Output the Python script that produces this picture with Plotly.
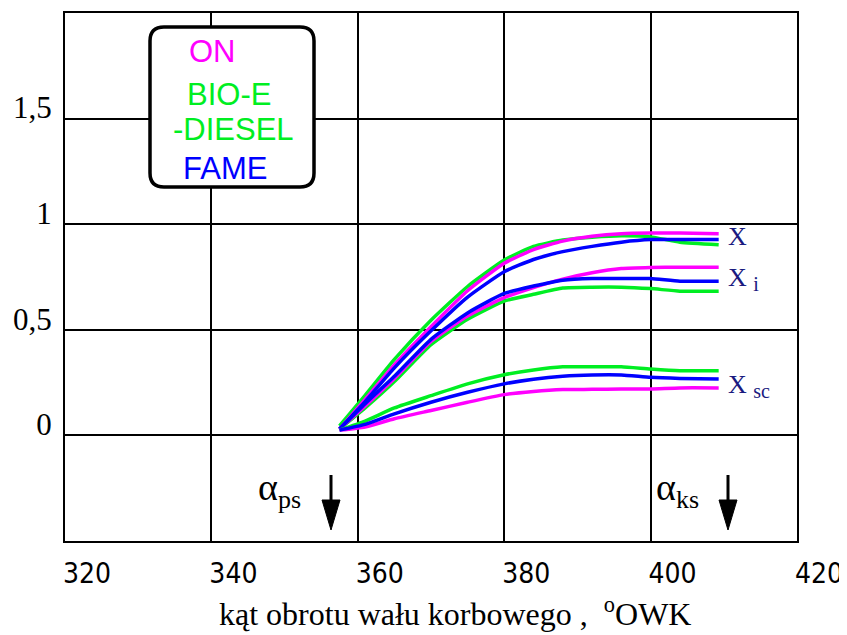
import plotly.graph_objects as go

# ---- data ----
angle = [357.5, 361, 365, 370, 375, 380, 384, 388, 392, 396, 400, 404, 409.3]

on_x    = [0.03, 0.17, 0.335, 0.515, 0.685, 0.815, 0.88, 0.92, 0.943, 0.955, 0.958, 0.958, 0.955]
bio_x   = [0.045, 0.19, 0.36, 0.545, 0.705, 0.83, 0.895, 0.925, 0.938, 0.945, 0.94, 0.915, 0.903]
fame_x  = [0.03, 0.16, 0.32, 0.495, 0.655, 0.775, 0.833, 0.87, 0.895, 0.915, 0.927, 0.927, 0.927]

on_xi   = [0.03, 0.14, 0.27, 0.445, 0.565, 0.652, 0.70, 0.74, 0.77, 0.79, 0.795, 0.796, 0.796]
bio_xi  = [0.03, 0.13, 0.255, 0.43, 0.55, 0.636, 0.668, 0.698, 0.702, 0.702, 0.695, 0.683, 0.683]
fame_xi = [0.03, 0.15, 0.28, 0.455, 0.58, 0.672, 0.707, 0.735, 0.743, 0.743, 0.743, 0.73, 0.73]

on_xsc   = [0.025, 0.04, 0.079, 0.118, 0.157, 0.193, 0.208, 0.217, 0.218, 0.22, 0.22, 0.225, 0.225]
bio_xsc  = [0.025, 0.068, 0.13, 0.188, 0.244, 0.287, 0.31, 0.325, 0.325, 0.325, 0.314, 0.306, 0.306]
fame_xsc = [0.025, 0.052, 0.102, 0.157, 0.204, 0.244, 0.266, 0.28, 0.286, 0.286, 0.275, 0.27, 0.267]

x_ticks = [320, 340, 360, 380, 400, 420]
y_ticks = [0, 0.5, 1, 1.5]
y_ticktext = ["0", "0,5", "1", "1,5"]

C_ON, C_BIO, C_FAME = "#ff00ff", "#00ee22", "#0000ff"
LBL = "#1a1a80"

fig = go.Figure()
series = [
    (bio_x, C_BIO), (on_x, C_ON), (fame_x, C_FAME),
    (bio_xi, C_BIO), (on_xi, C_ON), (fame_xi, C_FAME),
    (bio_xsc, C_BIO), (on_xsc, C_ON), (fame_xsc, C_FAME),
]
for ys, col in series:
    fig.add_trace(go.Scatter(x=angle, y=ys, mode="lines",
                             line=dict(color=col, width=3.5, shape="spline", smoothing=0.5),
                             showlegend=False, hoverinfo="skip"))

# page body has an 8px margin, so the figure is offset by (8, 8)
fig.update_layout(
    width=839, height=627,
    margin=dict(l=57, r=50, t=5, b=94, autoexpand=False),
    paper_bgcolor="white", plot_bgcolor="white",
    showlegend=False,
)
fig.update_xaxes(
    range=[320, 420], tickvals=x_ticks, ticktext=[str(v) for v in x_ticks],
    showgrid=True, gridcolor="black", gridwidth=1.5,
    showline=True, linecolor="black", linewidth=2, mirror=True,
    zeroline=False, ticks="", automargin=False,
    tickfont=dict(family="Liberation Sans Narrow, Arial Narrow, DejaVu Sans Condensed, sans-serif", size=28, color="black"),
    ticklabelshift=22, ticklabelstandoff=6,
)
fig.update_yaxes(
    range=[-0.5, 2.0], tickvals=y_ticks, ticktext=y_ticktext,
    showgrid=True, gridcolor="black", gridwidth=1.5,
    showline=True, linecolor="black", linewidth=2, mirror=True,
    zeroline=False, ticks="", automargin=False,
    tickfont=dict(family="Liberation Serif, serif", size=31, color="black"),
    ticklabelshift=-11, ticklabelstandoff=5,
)

# screen px of plot area: x 65..797, y 13..541
def px2paper(px, py):
    return (px - 65) / 732, (541 - py) / 528

# legend box (rounded)
x0, yt = px2paper(150, 27)
x1, yb = px2paper(314, 187)
rx, ry = 14 / 732, 14 / 528
path = (f"M {x0+rx},{yt} L {x1-rx},{yt} Q {x1},{yt} {x1},{yt-ry} "
        f"L {x1},{yb+ry} Q {x1},{yb} {x1-rx},{yb} L {x0+rx},{yb} "
        f"Q {x0},{yb} {x0},{yb+ry} L {x0},{yt-ry} Q {x0},{yt} {x0+rx},{yt} Z")
fig.add_shape(type="path", path=path, xref="paper", yref="paper",
              line=dict(color="black", width=3.5), fillcolor="white", layer="above")

legend_items = [("ON", C_ON, 187, 52), ("BIO-E", C_BIO, 185, 94),
                ("-DIESEL", C_BIO, 171, 130), ("FAME", C_FAME, 181, 168)]
for txt, col, px, py in legend_items:
    xp, yp = px2paper(px, py)
    fig.add_annotation(x=xp, y=yp, xref="paper", yref="paper", text=txt,
                       showarrow=False, xanchor="left", yanchor="middle",
                       font=dict(family="Liberation Sans, Arial, sans-serif", size=31, color=col))

# curve labels
curve_labels = [("X", 236), ("X <sub><span style='font-size:20px'>i</span></sub>", 279),
                ("X <sub><span style='font-size:20px'>sc</span></sub>", 386)]
for txt, py in curve_labels:
    xp, yp = px2paper(726, py)
    fig.add_annotation(x=xp, y=yp, xref="paper", yref="paper", text=txt,
                       showarrow=False, xanchor="left", yanchor="middle",
                       font=dict(family="Liberation Serif, serif", size=26, color=LBL))

# alpha markers with arrows
alpha_items = [("α<sub><span style='font-size:26px'>ps</span></sub>", 256, 331),
               ("α<sub><span style='font-size:26px'>ks</span></sub>", 654, 728)]
for txt, pxl, pxa in alpha_items:
    xp, yp = px2paper(pxl, 490)
    fig.add_annotation(x=xp, y=yp, xref="paper", yref="paper", text=txt,
                       showarrow=False, xanchor="left", yanchor="middle",
                       font=dict(family="Liberation Serif, serif", size=38, color="black"))
    ax, _ = px2paper(pxa, 0)
    _, ytop = px2paper(0, 475)
    _, ymid = px2paper(0, 500)
    _, ytip = px2paper(0, 530)
    hw = 9 / 732
    fig.add_shape(type="line", xref="paper", yref="paper", x0=ax, x1=ax, y0=ytop, y1=ymid,
                  line=dict(color="black", width=3))
    fig.add_shape(type="path", xref="paper", yref="paper",
                  path=f"M {ax-hw},{ymid} L {ax+hw},{ymid} L {ax},{ytip} Z",
                  fillcolor="black", line=dict(color="black", width=1))

# x title
xt, ytt = px2paper(455, 612)
fig.add_annotation(x=xt, y=ytt, xref="paper", yref="paper",
                   text="kąt obrotu wału korbowego ,  <sup>o</sup>OWK",
                   showarrow=False, xanchor="center", yanchor="middle",
                   font=dict(family="Liberation Serif, serif", size=32, color="black"))

fig.write_html("out.html")
